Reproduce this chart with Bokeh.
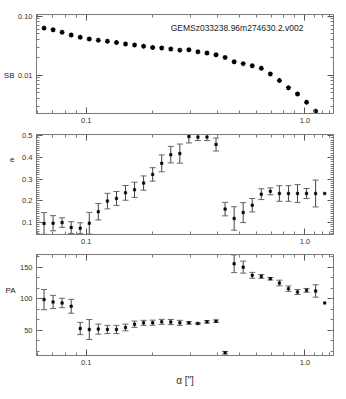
import numpy as np
from bokeh.plotting import figure
from bokeh.layouts import column
from bokeh.models import (LogAxis, LinearAxis, FixedTicker, PrintfTickFormatter,
                          CustomJSTickFormatter, Label, Range1d, ColumnDataSource)
from bokeh.embed import file_html
from bokeh.resources import INLINE

# ---------------- data ----------------
radius = [0.0641, 0.0705, 0.0775, 0.0853, 0.0938, 0.1032, 0.1135, 0.1249,
          0.1374, 0.1511, 0.1662, 0.1828, 0.2011, 0.2212, 0.2434, 0.2677,
          0.2945, 0.3239, 0.3563, 0.3920, 0.4312, 0.4743, 0.5217, 0.5739,
          0.6313, 0.6944, 0.7638, 0.8402, 0.9242, 1.0166, 1.1183, 1.2301]

sb = [0.0629, 0.0591, 0.0533, 0.0480, 0.0439, 0.0411, 0.0391, 0.0376,
      0.0358, 0.0339, 0.0326, 0.0310, 0.0295, 0.0290, 0.0279, 0.0266,
      0.0270, 0.0249, 0.0237, 0.0222, 0.0200, 0.0169, 0.0157, 0.0145,
      0.0131, 0.0105, 0.0081, 0.00613, 0.0048, 0.00347, 0.00245]

ellip = [0.096, 0.097, 0.100, 0.077, 0.074, 0.097, 0.150, 0.199,
         0.211, 0.237, 0.251, 0.282, 0.322, 0.373, 0.413, 0.418,
         0.497, 0.494, 0.494, 0.460, 0.162, 0.119, 0.146, 0.180,
         0.231, 0.244, 0.234, 0.234, 0.234, 0.234, 0.234, 0.234]
ellip_err = [0.050, 0.035, 0.022, 0.027, 0.025, 0.050, 0.038, 0.036,
             0.032, 0.034, 0.035, 0.033, 0.031, 0.039, 0.038, 0.044,
             0.030, 0.016, 0.016, 0.030, 0.031, 0.054, 0.046, 0.031,
             0.025, 0.016, 0.036, 0.036, 0.041, 0.023, 0.062, 0.0]

pa = [98.6, 94.8, 93.2, 88.0, 52.8, 51.2, 51.8, 51.2,
      51.2, 54.4, 59.6, 61.7, 62.0, 63.3, 63.0, 61.7,
      61.7, 60.7, 63.3, 64.4, 14.4, 155.3, 150.0, 137.0,
      135.3, 131.6, 124.8, 115.9, 110.6, 113.2, 112.2, 93.2]
pa_err = [16.0, 10.5, 7.5, 11.0, 9.7, 15.8, 8.0, 6.5,
          6.5, 5.3, 5.0, 4.0, 4.0, 4.0, 4.0, 4.0,
          2.0, 1.0, 2.0, 2.0, 2.0, 14.0, 9.5, 4.7,
          3.0, 2.0, 4.5, 4.2, 4.0, 3.0, 9.8, 0.0]

x_ticks = [0.1, 1.0]
x_minor = [0.06, 0.07, 0.08, 0.09, 0.2, 0.3, 0.4, 0.5, 0.6, 0.7, 0.8, 0.9,
           1.1, 1.2, 1.3]
sb_ticks = [0.01, 0.1]
sb_minor = [0.003, 0.004, 0.005, 0.006, 0.007, 0.008, 0.009,
            0.02, 0.03, 0.04, 0.05, 0.06, 0.07, 0.08, 0.09]
e_ticks = [0.1, 0.2, 0.3, 0.4, 0.5]
e_minor = [round(0.05 + 0.01 * k, 2) for k in range(46)]
pa_ticks = [50, 100, 150]
pa_minor = [round(50 / 3 * k, 2) for k in range(1, 11)]

object_name = "GEMSz033238.96m274630.2.v002"
x_label = 'α ["]'
y_labels = ["SB", "e", "PA"]

# ---------------- styling ----------------
FONT = "Liberation Sans"
AXC = "#7a7a7a"
X_RANGE = (0.0592, 1.35)
FIG_W = 338


def style_axis(ax, ticks, minor, fmt=None, show=True):
    ax.ticker = FixedTicker(ticks=ticks, minor_ticks=minor)
    ax.axis_line_color = AXC
    ax.major_tick_line_color = "#555555"
    ax.minor_tick_line_color = AXC
    ax.major_tick_in = 6
    ax.major_tick_out = 0
    ax.minor_tick_in = 3
    ax.minor_tick_out = 0
    ax.major_label_text_font = FONT
    ax.major_label_text_color = "#333333"
    if show:
        ax.major_label_text_font_size = "7.5px"
        ax.major_label_standoff = 4
        if fmt:
            ax.formatter = PrintfTickFormatter(format=fmt)
    else:
        ax.major_label_text_font_size = "2px"
        ax.major_label_standoff = 0
        ax.formatter = CustomJSTickFormatter(code="return ''")


def make_panel(y_type, y_range, height, top, bottom, yticks, yminor, yfmt):
    p = figure(x_axis_type="log", y_axis_type=y_type,
               x_range=Range1d(*X_RANGE), y_range=Range1d(*y_range),
               width=FIG_W, height=height,
               min_border_left=33, min_border_right=5,
               min_border_top=top, min_border_bottom=bottom,
               output_backend="svg", toolbar_location=None)
    p.grid.visible = False
    p.outline_line_color = AXC
    p.background_fill_color = "white"
    p.border_fill_color = "white"
    style_axis(p.below[0], x_ticks, x_minor, "%.1f")
    style_axis(p.left[0], yticks, yminor, yfmt)
    top_ax = LogAxis()
    style_axis(top_ax, x_ticks, x_minor, show=False)
    p.add_layout(top_ax, "above")
    right_ax = LogAxis() if y_type == "log" else LinearAxis()
    style_axis(right_ax, yticks, yminor, show=False)
    p.add_layout(right_ax, "right")
    return p


def side_label(p, text, y, log=False, standoff=1):
    # an extra, line-less axis carrying the horizontal y-axis title
    ax = LogAxis() if log else LinearAxis()
    ax.ticker = FixedTicker(ticks=[y], minor_ticks=[])
    ax.formatter = CustomJSTickFormatter(code="return %r;" % text)
    ax.axis_line_color = None
    ax.major_tick_line_color = None
    ax.minor_tick_line_color = None
    ax.major_tick_in = 0
    ax.major_tick_out = 0
    ax.minor_tick_in = 0
    ax.minor_tick_out = 0
    ax.major_label_standoff = standoff
    ax.major_label_text_font = FONT
    ax.major_label_text_font_size = "8px"
    ax.major_label_text_color = "#222222"
    p.add_layout(ax, "left")


def error_bars(p, xs, ys, errs):
    xs = np.asarray(xs); ys = np.asarray(ys); errs = np.asarray(errs)
    m = errs > 0
    src = ColumnDataSource(dict(x=xs[m], lo=(ys - errs)[m], hi=(ys + errs)[m]))
    p.segment(x0="x", y0="lo", x1="x", y1="hi", source=src,
              line_color="#444444", line_width=1)
    p.scatter(x="x", y="lo", source=src, marker="dash", size=6,
              line_color="#666666", line_width=1)
    p.scatter(x="x", y="hi", source=src, marker="dash", size=6,
              line_color="#666666", line_width=1)


# ---------------- panel 1: SB ----------------
p1 = make_panel("log", (0.00224, 0.107), 129, 14, 16, sb_ticks, sb_minor, "%.2f")
p1.scatter(radius[:len(sb)], sb, marker="asterisk", size=5, line_width=1.3,
           line_color="black")
p1.add_layout(Label(x=0.243, y=0.062, text=object_name, text_font=FONT,
                    text_font_size="8.5px", text_baseline="middle",
                    text_align="left", text_color="#222222"))
side_label(p1, y_labels[0], 0.01, log=True, standoff=0)

# ---------------- panel 2: ellipticity ----------------
p2 = make_panel("linear", (0.045, 0.506), 120, 5, 15, e_ticks, e_minor, "%.1f")
error_bars(p2, radius, ellip, ellip_err)
p2.scatter(radius, ellip, marker="square", size=2.5, fill_color="black",
           line_color="black", line_width=0.5)
side_label(p2, y_labels[1], 0.39, standoff=5)

# ---------------- panel 3: position angle ----------------
p3 = make_panel("linear", (10.0, 170.0), 150, 5, 44, pa_ticks, pa_minor, "%d")
error_bars(p3, radius, pa, pa_err)
p3.scatter(radius, pa, marker="square", size=2.5, fill_color="black",
           line_color="black", line_width=0.5)
side_label(p3, y_labels[2], 113, standoff=1)
xa = p3.below[0]
xa.axis_label = x_label
xa.axis_label_text_font = FONT
xa.axis_label_text_font_size = "10px"
xa.axis_label_text_font_style = "normal"
xa.axis_label_text_color = "#333333"
xa.axis_label_standoff = 7

layout = column(p1, p2, p3, spacing=0)
open("out.html", "w").write(file_html(layout, INLINE))
